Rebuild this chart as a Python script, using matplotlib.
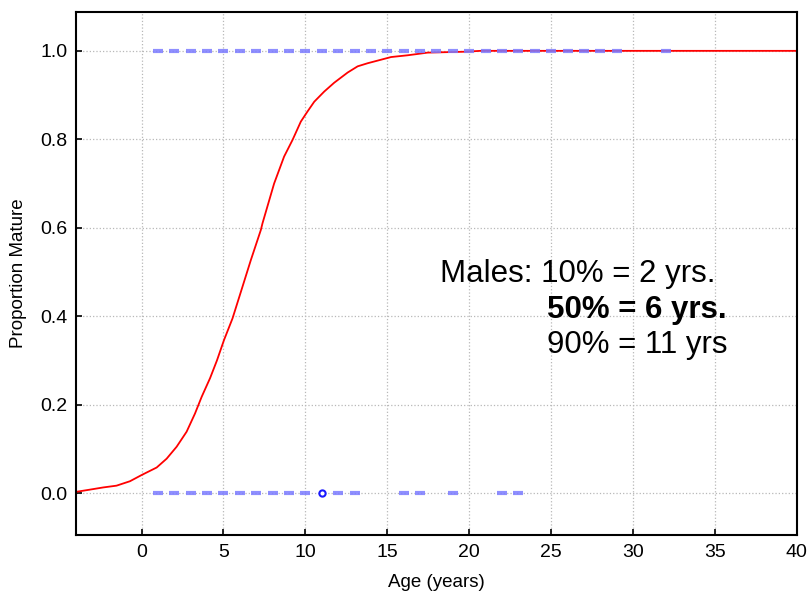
import matplotlib
matplotlib.use("Agg")
import matplotlib.pyplot as plt

plt.rcParams['font.family'] = ['Liberation Sans', 'DejaVu Sans']

# fitted maturity curve
curve_age = [-4.0, -3.16, -2.34, -1.53, -0.71, 0.0, 0.92, 1.53, 2.14, 2.75, 3.26, 3.67,
             4.18, 4.6, 5.03, 5.55, 6.06, 6.67, 7.28, 7.38, 8.09, 8.7, 9.22, 9.72,
             10.13, 10.54, 11.15, 11.76, 12.58, 13.19, 13.8, 14.62, 15.23, 16.25,
             17.47, 19.7, 20.7, 25.0, 30.0, 35.0, 40.0]
curve_prop = [0.003, 0.008, 0.013, 0.017, 0.027, 0.041, 0.058, 0.078, 0.105, 0.139, 0.18, 0.218,
              0.26, 0.30, 0.346, 0.395, 0.455, 0.527, 0.595, 0.61, 0.70, 0.761, 0.799, 0.84,
              0.863, 0.885, 0.908, 0.928, 0.951, 0.965, 0.972, 0.98, 0.986, 0.99,
              0.996, 0.998, 1.0, 1.0, 1.0, 1.0, 1.0]

# observed fish (ages of mature and immature males)
mature_ages = [1, 2, 3, 4, 5, 6, 7, 8, 9, 10, 11, 12, 13, 14, 15, 16, 17, 18, 19, 20,
               21, 22, 23, 24, 25, 26, 27, 28, 29, 32]
immature_ages = [1, 2, 3, 4, 5, 6, 7, 8, 9, 10, 12, 13, 16, 17, 19, 22, 23]
highlight_age = [11]

fig = plt.figure(figsize=(8.09, 5.96), dpi=100)
ax = fig.add_axes([0.094, 0.102, 0.891, 0.878])

ax.plot(mature_ages, [1] * len(mature_ages), linestyle='none', marker='_', markersize=7.5,
        markeredgewidth=3, color='#7b7bff', alpha=0.85, zorder=3)
ax.plot(immature_ages, [0] * len(immature_ages), linestyle='none', marker='_', markersize=7.5,
        markeredgewidth=3, color='#7b7bff', alpha=0.85, zorder=3)
ax.plot(highlight_age, [0], linestyle='none', marker='o', markersize=4.5,
        markerfacecolor='white', markeredgecolor='#1a1aff', markeredgewidth=1.5, zorder=4)
ax.plot(curve_age, curve_prop, color='red', linewidth=1.3, zorder=2)

ax.set_xlim(-4, 40)
ax.set_ylim(-0.095, 1.088)
ax.set_xticks(range(0, 41, 5))
ax.set_yticks([0.0, 0.2, 0.4, 0.6, 0.8, 1.0])
ax.set_yticklabels(['0.0', '0.2', '0.4', '0.6', '0.8', '1.0'])
ax.tick_params(direction='in', length=4, labelsize=14, width=1.2, pad=6)
ax.grid(True, color='#b8b8b8', linestyle=':', linewidth=0.9)
ax.set_axisbelow(True)
for s in ax.spines.values():
    s.set_linewidth(1.5)

ax.set_xlabel('Age (years)', fontsize=13.5, labelpad=10)
ax.set_ylabel('Proportion Mature', fontsize=13.5, labelpad=10)

ax.text(0.505, 0.484, 'Males: 10% = 2 yrs.', transform=ax.transAxes, fontsize=22.5, va='baseline')
ax.text(0.653, 0.415, '50% = 6 yrs.', transform=ax.transAxes, fontsize=22.5, fontweight='bold',
        va='baseline')
ax.text(0.653, 0.348, '90% = 11 yrs', transform=ax.transAxes, fontsize=22.5, va='baseline')

fig.savefig('out.png', dpi=100)
